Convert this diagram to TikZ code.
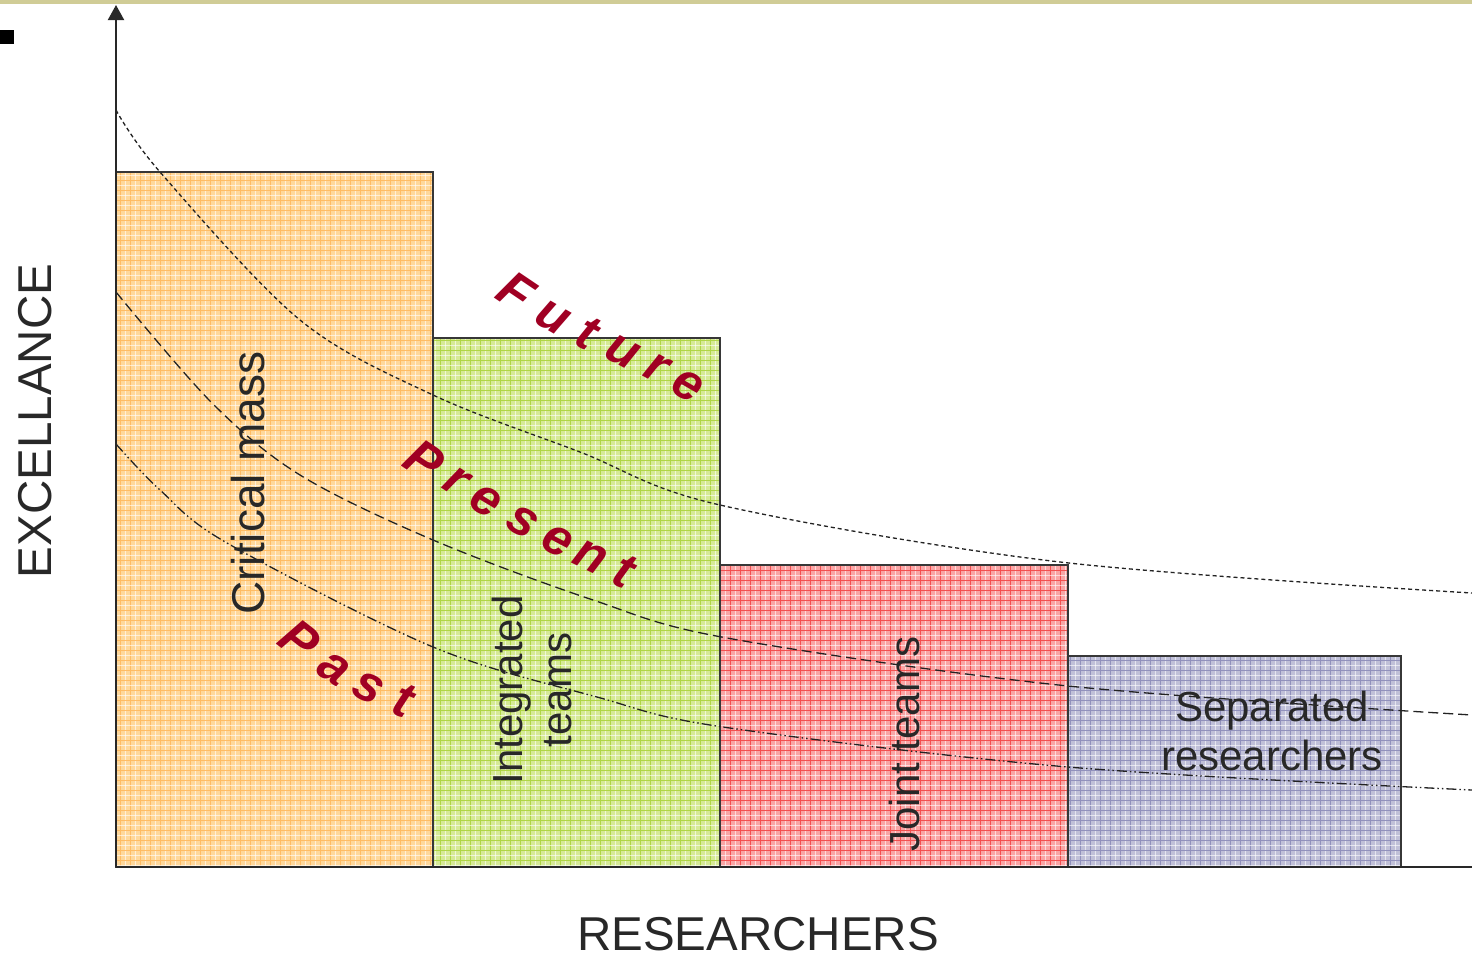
\documentclass[tikz,border=0pt]{standalone}
\usepackage{fontspec}
\setmainfont{Liberation Sans}
\usetikzlibrary{arrows.meta}
\definecolor{txt}{RGB}{40,40,40}
\definecolor{frame}{RGB}{55,55,55}
\definecolor{curvecol}{RGB}{35,35,35}
\definecolor{redtxt}{RGB}{160,0,35}
\definecolor{topbar}{RGB}{208,204,150}
\definecolor{orbase}{RGB}{255,216,155}
\definecolor{orline}{RGB}{255,188,100}
\definecolor{grbase}{RGB}{214,234,150}
\definecolor{grline}{RGB}{176,214,70}
\definecolor{rdbase}{RGB}{250,165,165}
\definecolor{rdline}{RGB}{244,80,80}
\definecolor{blbase}{RGB}{192,192,216}
\definecolor{blline}{RGB}{145,145,188}
\tikzset{
  barframe/.style={draw=frame, line width=2pt},
  gridline/.style={line width=1pt},
  whiteline/.style={draw=white, line width=0.8pt, opacity=0.6},
  curve/.style={draw=curvecol, line width=1.3pt},
  lbl/.style={text=txt, inner sep=0pt, align=center, font=\fontsize{42}{49}\selectfont},
  axlbl/.style={text=txt, inner sep=0pt, font=\fontsize{47.5}{52}\selectfont},
  redl/.style={text=redtxt, inner sep=0pt, font=\fontsize{51}{51}\selectfont\bfseries\itshape},
}
\begin{document}
\begin{tikzpicture}[x=1pt,y=-1pt]
\useasboundingbox (0,0) rectangle (1472,959);
\fill[white] (0,0) rectangle (1472,959);
% top bar and bullet
\fill[topbar] (0,0) rectangle (1472,4);
\fill[black] (0,30) rectangle (14,44);
% bars
\foreach \xa/\xb/\yt/\bb/\ll in {116/433/172/orbase/orline,433/720/338/grbase/grline,720/1068/565/rdbase/rdline,1068/1401/656/blbase/blline}{
  \begin{scope}
    \clip (\xa,\yt) rectangle (\xb,867);
    \fill[\bb] (\xa,\yt) rectangle (\xb,867);
    \foreach \gx in {110,120,...,1410}{
      \draw[gridline,draw=\ll] (\gx,160) -- (\gx,870);
      \draw[whiteline] (\gx+5,160) -- (\gx+5,870);
    }
    \foreach \gy in {160,170,...,870}{
      \draw[gridline,draw=\ll] (110,\gy) -- (1410,\gy);
      \draw[whiteline] (110,\gy+5) -- (1410,\gy+5);
    }
  \end{scope}
  \draw[barframe] (\xa,\yt) rectangle (\xb,867);
}
% curves
\draw[curve, dash pattern=on 4pt off 3pt] plot[smooth, tension=0.55] coordinates {(116,110) (160,172) (300,320) (433,395) (580,452) (720,505) (1060,562) (1472,593)};
\draw[curve, dash pattern=on 10pt off 5pt] plot[smooth, tension=0.55] coordinates {(116,292) (212,403) (300,475) (433,540) (593,600) (727,638) (1068,686) (1472,715)};
\draw[curve, dash pattern=on 10pt off 3pt on 1.5pt off 3pt on 1.5pt off 3pt] plot[smooth, tension=0.55] coordinates {(116,444) (160,490) (227,543) (433,647) (597,697) (723,727) (1068,767) (1472,790)};
% axes
\coordinate (o) at (116,867);
\coordinate (ytop) at (116,5);
\coordinate (xend) at (1472,867);
\draw[draw=txt, line width=2pt, -{Triangle[width=16pt,length=15pt]}] (o) -- (ytop);
\draw[draw=txt, line width=2pt] (o) -- (xend);
% axis labels
\node[axlbl, rotate=90] (exc) at (35,421) {EXCELLANCE};
\node[axlbl] (res) at (758,934) {RESEARCHERS};
% bar labels
\node[lbl, font=\fontsize{46}{52}\selectfont, rotate=90] (cm) at (248,483) {Critical mass};
\node[lbl, rotate=90] (it) at (532,690) {Integrated\\teams};
\node[lbl, rotate=90] (jt) at (904,744) {Joint teams};
\node[lbl] (sr) at (1272,731) {Separated\\researchers};
% Future
\node[redl, rotate=-34] (f1) at (516,292) {F};
\node[redl, rotate=-30] (f2) at (553,318) {u};
\node[redl, rotate=-28] (f3) at (588,333) {t};
\node[redl, rotate=-28] (f4) at (622,352) {u};
\node[redl, rotate=-28] (f5) at (657,368) {r};
\node[redl, rotate=-30] (f6) at (688,386) {e};
% Present
\node[redl, rotate=-34] (p1) at (424,460) {P};
\node[redl, rotate=-33] (p2) at (456,481) {r};
\node[redl, rotate=-31] (p3) at (486,501) {e};
\node[redl, rotate=-30] (p4) at (522,522) {s};
\node[redl, rotate=-28] (p5) at (557,541) {e};
\node[redl, rotate=-26] (p6) at (591,557) {n};
\node[redl, rotate=-25] (p7) at (624,571) {t};
% Past
\node[redl, rotate=-38] (q1) at (300,640) {P};
\node[redl, rotate=-33] (q2) at (334,669) {a};
\node[redl, rotate=-27] (q3) at (368,688) {s};
\node[redl, rotate=-22] (q4) at (404,700) {t};
\end{tikzpicture}
\end{document}
